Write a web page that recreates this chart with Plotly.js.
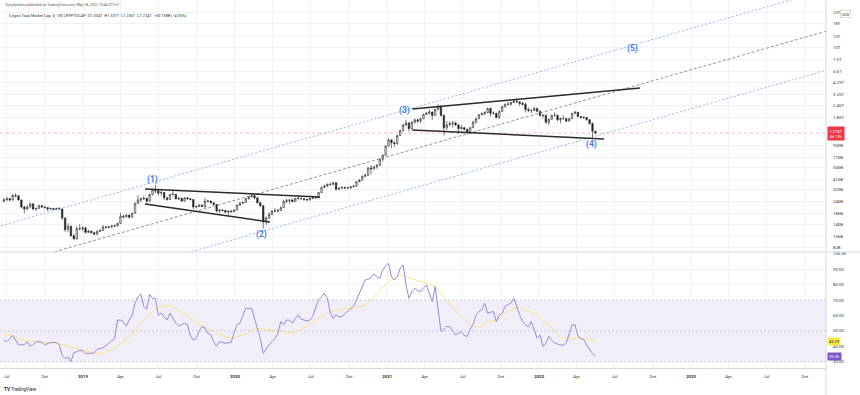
<!DOCTYPE html>
<html><head><meta charset="utf-8">
<script src="https://cdn.plot.ly/plotly-3.0.1.min.js"></script>
<style>html,body{margin:0;padding:0;background:#fff;}#chart{width:860px;height:395px;}</style>
</head><body><div id="chart"></div>
<script>
// ---- DATA (values in billions USD, weekly candles from 2018-06-25) ----
const firstWeek = '2018-06-25';
const firstOpen = 248;
const closes = [255,262,255,285,282,255,215,205,215,232, 205,208,222,215,212,205,207,203,207,205,
 165,125,135,108,100,128,128,130,117,120, 116,112,120,122,133,132,133,136,137,145,
 172,170,177,168,185,235,255,262,265,248, 290,325,318,300,305,268,258,290,292,262,
 265,248,268,262,258,215,218,225,218,248, 248,238,228,195,200,198,190,195,192,200,
 225,237,240,262,275,282,268,238,222,150, 165,180,195,195,198,212,245,250,255,245,
 265,265,262,258,255,265,270,268,305,345, 355,372,370,385,330,338,345,340,340,350,
 355,395,410,450,462,550,540,565,590,680, 750,930,1080,1010,990,1200,1350,1550,1620,1420,
 1650,1750,1700,1800,2000,2050,2120,1950,2250,2400, 1950,1450,1550,1600,1620,1550,1420,1450,1400,1300,
 1450,1650,1800,1980,2030,2080,2300,2050,2050,1850, 2150,2400,2550,2550,2650,2750,2700,2600,2550,2250,
 2200,2200,2300,2150,1950,1950,1650,1780,1950,1950, 1750,1800,1800,1700,1800,2050,2100,1900,1850,1850,
 1750,1600,1334,1274];
const highs = [268,275,268,292,300,285,258,222,225,240, 235,212,228,226,222,215,212,210,212,215,
 207,168,145,138,112,135,142,135,135,124, 122,118,122,126,140,136,137,139,141,147,
 186,180,181,180,188,240,285,272,282,268, 295,332,370,330,322,310,275,296,320,295,
 275,268,272,273,268,260,222,230,228,268, 257,250,242,230,206,204,201,198,199,202,
 230,242,245,268,280,295,290,272,245,225, 172,190,200,210,205,218,255,262,258,262,
 268,285,270,265,262,268,274,273,308,350, 370,378,388,395,392,345,352,350,350,355,
 365,400,420,458,480,560,590,580,600,690, 760,950,1130,1100,1050,1220,1380,1580,1750,1660,
 1700,1800,1800,1850,2030,2120,2250,2130,2300,2550, 2500,2000,1700,1700,1700,1680,1580,1550,1480,1410,
 1470,1720,1830,2010,2100,2150,2350,2370,2150,2080, 2200,2450,2580,2700,2700,2900,2970,2720,2700,2650,
 2350,2250,2400,2350,2200,2000,2000,1800,1980,2100, 2000,1850,1950,1850,1850,2070,2180,2120,1920,1920,
 1880,1800,1650,1337];
const lows = [240,250,248,252,270,250,208,185,200,212, 198,195,205,210,208,195,200,200,200,202,
 158,118,118,105,98,98,122,120,113,115, 113,109,110,118,121,128,128,131,133,134,
 143,163,167,163,166,183,230,240,255,235, 245,285,300,285,282,255,250,255,285,258,
 255,245,246,258,252,205,208,215,214,208, 240,234,224,190,186,194,187,178,189,190,
 198,220,230,238,258,272,258,232,215,128, 140,162,177,190,190,196,210,235,232,240,
 242,255,258,250,250,252,262,265,266,302, 340,350,360,365,318,322,334,330,335,336,
 345,350,390,405,440,455,470,530,540,580, 640,740,920,880,920,960,1190,1330,1500,1330,
 1400,1600,1620,1620,1780,1960,1980,1750,1930,2200, 1900,1200,1380,1500,1450,1500,1250,1380,1350,1270,
 1250,1440,1600,1780,1950,1960,2050,1900,1980,1820, 1800,2120,2350,2500,2480,2630,2650,2450,2480,2100,
 2100,2050,2150,2100,1900,1820,1600,1550,1750,1900, 1700,1600,1780,1650,1680,1790,2000,1880,1800,1790,
 1720,1560,1120,1236];
const rsi = [44,43,45,47,44,41,41,41,43,40, 41,43,43,42.5,41,42,42.5,42.5,42.5,41,
 34,32,33,30,36,36.4,37.5,37,35.3,35.5, 35.3,36,38,38.5,39,40.5,42,43,45,57,
 57,56,53,57,60,68,72,74,66,64, 73.7,71,71,60,61.5,59,57,61.5,58,55,
 53,54,55,54,47,44,45,50,52.8,51.7, 48.5,47.4,43,40,43,42.5,42,42.3,42.6,49,
 54,55,60,64.6,64.6,64.6,58,50.6,45,35.5, 38.7,41,43,45,48,56,54,57,57,55,
 58,60.4,57.5,57,56.5,57,59.3,65,70,72, 74.3,71,62,58.2,60.4,59,59.3,61,62.6,64,
 66,70,74,79,83,83.5,84.4,87,85,84, 89.5,92,93.8,85,83,85,90.6,92.7,80,71.1,
 75.4,77.6,76,75.4,78,79.7,75,69,78.6,65, 49.6,51,52.8,52.8,50,47.4,48.5,49.6,47,46.4,
 51,54,60,62.6,63.6,67.9,61.5,62,62.6,56, 60,61.5,65.8,67,67.9,71.1,65,60.4,56,53.9,
 52.8,56,50.6,45.3,47.4,39.8,42,46.4,44,42, 41.5,40.8,40.8,42,48,53.9,53.9,46.4,45,44.2,
 40.8,38,35.3,33.35];
const rsiMA = [48,47.8,47.6,47,46,45,44.2,44,43.5,43.2, 43,42.7,42.5,42.4,42.3,42.2,42.1,42,42,41.5,
 41,40.5,39.9,39.5,39,38.5,38,37.7,37.2,36.5, 36,35.5,35,35.3,35.8,36.4,37,37.8,39,39.8,
 41.5,43,44.5,46,48.5,51,53,55,57,59, 61,62.6,64,65.4,65.8,66,66.3,66.5,65.5,64.5,
 63.2,62,60.8,59.3,58,56.5,55.3,54.2,53.2,52.5, 51.5,50.6,49.7,48.5,47.7,47,46.4,45.9,45.5,45.5,
 46,46.5,47.2,48,49,50.3,51.7,51.5,51.2,50.9, 50.6,50.5,50.4,50.3,50.2,50,49.6,49.2,48.7,48.6,
 49.3,50,50.6,52,53.5,55,56,57.2,58.3,59.4, 60.5,61.5,62.2,62.8,63.3,63.7,64.1,64.3,64.5,64.8,
 65,65.1,65.6,66.2,66.8,68.5,70.3,72,73.3,75.5, 77.8,80,81.9,83,84,85.2,86.2,85.8,85.2,84.6,
 84,83.5,83,82.4,81.9,81,80.2,79.4,78.6,76, 73.6,71.2,68.9,67,65,63,61.5,59.6,57.6,55.8,
 53.9,53.3,52.7,52.2,53,54.3,55.5,56.2,56.8,57.1, 58.5,60,61.3,62.6,63.5,64.3,65.2,65,64.3,63.5,
 62.6,62,61.3,60.4,58.5,56.7,54.9,53.9,51.8,49.6, 47.4,45.3,45.3,45.3,45.3,45.3,45.3,45.3,45.3,45,
 44.5,44,43.6,43.29];
const rsiLevels = [70, 50, 30];

// drawings (date, value in B)
const channelUpperX = ['2018-05-22', '2023-09-20'], channelUpperY = [127, 33400];
const channelMidX = ['2018-09-20', '2023-12-25'], channelMidY = [66.3, 16270];
const channelLowerX = ['2019-08-22', '2023-12-25'], channelLowerY = [67.9, 6367];
const wedge1TopX = ['2019-05-30', '2020-07-23'], wedge1TopY = [332, 274];
const wedge1BotX = ['2019-05-30', '2020-03-25'], wedge1BotY = [231, 150];
const wedge2TopX = ['2021-03-02', '2022-08-31'], wedge2TopY = [2270, 3770];
const wedge2BotX = ['2021-03-02', '2022-06-06'], wedge2BotY = [1371, 1105];
const waveLabels = ['(1)', '(2)', '(3)', '(4)', '(5)'];
const waveDates = ['2019-06-18', '2020-03-06', '2021-02-11', '2022-05-06', '2022-08-12'];
const waveValues = [412, 110, 2167, 979, 9700];

// axis ticks (1.40T label is hidden behind the price tag in the reference)
const priceTickVals = [23000,18000,13000,10000,7500,5600,4290,3250,2450,1850,950,710,550,415,325,245,185,140,106,82];
const priceTickText = ['23T','18T','13T','10T','7.5T','5.6T','4.29T','3.25T','2.45T','1.85T','950B','710B','550B','415B','325B','245B','185B','140B','106B','82B'];
const rsiTickVals = [30,40,50,60,70,80,90,100];
const rsiTickText = ['30.00','40.00','50.00','60.00','70.00','80.00','90.00','100.00'];
const timeTickVals = ['2018-07-01','2018-10-01','2019-01-01','2019-04-01','2019-07-01','2019-10-01','2020-01-01','2020-04-01','2020-07-01','2020-10-01','2021-01-01','2021-04-01','2021-07-01','2021-10-01','2022-01-01','2022-04-01','2022-07-01','2022-10-01','2023-01-01','2023-04-01','2023-07-01','2023-10-01'];
const timeTickText = ['Jul','Oct','<b>2019</b>','Apr','Jul','Oct','<b>2020</b>','Apr','Jul','Oct','<b>2021</b>','Apr','Jul','Oct','<b>2022</b>','Apr','Jul','Oct','<b>2023</b>','Apr','Jul','Oct'];

// ---- BUILD ----
const t0 = Date.parse(firstWeek + 'T00:00:00Z');
const dates = closes.map((_, i) => new Date(t0 + i * 7 * 864e5).toISOString().slice(0, 10));
const opens = closes.map((c, i) => i === 0 ? firstOpen : closes[i - 1]);
const lastClose = closes[closes.length - 1];
const xRange = ['2018-06-15 14:00', '2023-11-21'];
const FONT = 'Roboto, "Liberation Sans", sans-serif';

const traces = [
  {type:'scatter', mode:'lines', x:channelUpperX, y:channelUpperY, xaxis:'x', yaxis:'y', line:{color:'#7fa2f0', width:0.8, dash:'2px,2px'}, hoverinfo:'skip'},
  {type:'scatter', mode:'lines', x:channelLowerX, y:channelLowerY, xaxis:'x', yaxis:'y', line:{color:'#7fa2f0', width:0.8, dash:'2px,2px'}, hoverinfo:'skip'},
  {type:'scatter', mode:'lines', x:channelMidX, y:channelMidY, xaxis:'x', yaxis:'y', line:{color:'#777', width:0.8, dash:'3px,2px'}, hoverinfo:'skip'},
  {type:'scatter', mode:'lines', x:xRange, y:[lastClose, lastClose], xaxis:'x', yaxis:'y', line:{color:'rgba(242,54,69,0.45)', width:0.8, dash:'dot'}, hoverinfo:'skip'},
  {type:'candlestick', x:dates, open:opens, high:highs, low:lows, close:closes, xaxis:'x', yaxis:'y',
    increasing:{line:{color:'#222', width:0.6}, fillcolor:'#ffffff'},
    decreasing:{line:{color:'#222', width:0.6}, fillcolor:'#222'}, whiskerwidth:0, hoverinfo:'skip'},
  {type:'scatter', mode:'lines', x:wedge1TopX, y:wedge1TopY, xaxis:'x', yaxis:'y', line:{color:'#2a2a2a', width:1.5}, hoverinfo:'skip'},
  {type:'scatter', mode:'lines', x:wedge1BotX, y:wedge1BotY, xaxis:'x', yaxis:'y', line:{color:'#2a2a2a', width:1.5}, hoverinfo:'skip'},
  {type:'scatter', mode:'lines', x:wedge2TopX, y:wedge2TopY, xaxis:'x', yaxis:'y', line:{color:'#2a2a2a', width:1.5}, hoverinfo:'skip'},
  {type:'scatter', mode:'lines', x:wedge2BotX, y:wedge2BotY, xaxis:'x', yaxis:'y', line:{color:'#2a2a2a', width:1.5}, hoverinfo:'skip'},
  {type:'scatter', mode:'lines', x:dates, y:rsiMA, xaxis:'x', yaxis:'y2', line:{color:'#f9e48c', width:1}, hoverinfo:'skip'},
  {type:'scatter', mode:'lines', x:dates, y:rsi, xaxis:'x', yaxis:'y2', line:{color:'#9b85de', width:1}, hoverinfo:'skip'}
];

const shapes = [
  {type:'rect', xref:'paper', yref:'y2', x0:0, x1:1, y0:rsiLevels[2], y1:rsiLevels[0], fillcolor:'rgba(126,87,194,0.10)', line:{width:0}, layer:'below'},
  ...rsiLevels.map(v => ({type:'line', xref:'paper', yref:'y2', x0:0, x1:1, y0:v, y1:v, line:{color:'#c2bed2', width:0.8, dash:'2px,2px'}})),
  {type:'line', xref:'paper', yref:'paper', x0:0, x1:1.042, y0:0.3152, y1:0.3152, line:{color:'#d6d9e0', width:1}},
  {type:'line', xref:'paper', yref:'paper', x0:1, x1:1, y0:-0.075, y1:1, line:{color:'#d6d9e0', width:1}}
];

const annotations = [
  {xref:'paper', yref:'paper', x:0.004, y:0.986, xanchor:'left', yanchor:'middle', showarrow:false,
   text:'TonySpilotro published on TradingView.com, May 18, 2022 10:44 UTC+1', font:{family:FONT, size:3.6, color:'#555'}},
  {xref:'paper', yref:'paper', x:0.008, y:0.959, xanchor:'left', yanchor:'middle', showarrow:false,
   text:'Crypto Total Market Cap, $, 1W, CRYPTOCAP  O1.334T  H1.337T  L1.236T  C1.274T  \u221260.738B (\u22124.55%)', font:{family:FONT, size:3.9, color:'#333'}},
  {xref:'paper', yref:'paper', x:1.017, y:0.962, xanchor:'left', yanchor:'middle', showarrow:false, text:'USD',
   font:{family:FONT, size:4, color:'#333'}, bgcolor:'#fff', bordercolor:'#bbb', borderwidth:0.5, borderpad:1},
  {xref:'paper', yref:'y', x:1.001, y:Math.log10(lastClose), xanchor:'left', yanchor:'middle', showarrow:false,
   text:'1.274T<br>4d 13h', align:'left', font:{family:FONT, size:4, color:'#fff'}, bgcolor:'#f23645', borderpad:1.5},
  {xref:'paper', yref:'y2', x:1.001, y:rsiMA[rsiMA.length - 1], xanchor:'left', yanchor:'middle', showarrow:false,
   text:rsiMA[rsiMA.length - 1].toFixed(2), font:{family:FONT, size:4, color:'#222'}, bgcolor:'#fbe94a', borderpad:1},
  {xref:'paper', yref:'y2', x:1.001, y:rsi[rsi.length - 1], xanchor:'left', yanchor:'middle', showarrow:false,
   text:rsi[rsi.length - 1].toFixed(2), font:{family:FONT, size:4, color:'#fff'}, bgcolor:'#7e57c2', borderpad:1},
  {xref:'paper', yref:'paper', x:0.003, y:-0.058, xanchor:'left', yanchor:'middle', showarrow:false,
   text:'<b>TV</b> TradingView', font:{family:FONT, size:4.6, color:'#222'}},
  ...waveLabels.map((t, i) => ({xref:'x', yref:'y', x:waveDates[i], y:Math.log10(waveValues[i]), showarrow:false,
   text:'<b>' + t + '</b>', font:{family:FONT, size:8.5, color:'#3f7ce6'}}))
];

const layout = {
  width:860, height:395, margin:{l:0, r:34, t:0, b:27}, paper_bgcolor:'#fff', plot_bgcolor:'#fff',
  showlegend:false, font:{family:FONT},
  xaxis:{type:'date', range:xRange, anchor:'y2', tickvals:timeTickVals, ticktext:timeTickText,
    tickfont:{family:FONT, size:4.3, color:'#333'}, ticks:'', ticklabelstandoff:4, showgrid:true, gridcolor:'#f1f2f5', gridwidth:1,
    zeroline:false, showline:true, linecolor:'#d6d9e0', rangeslider:{visible:false}, fixedrange:true},
  yaxis:{type:'log', domain:[0.3152, 1], range:[1.8624, 4.4956], side:'right', anchor:'x',
    tickvals:priceTickVals, ticktext:priceTickText, tickfont:{family:FONT, size:4.3, color:'#333'}, ticks:'', ticklabelstandoff:6,
    showgrid:true, gridcolor:'#f1f2f5', zeroline:false, showline:false},
  yaxis2:{domain:[0, 0.3125], range:[25.93, 100.46], side:'right', anchor:'x',
    tickvals:rsiTickVals, ticktext:rsiTickText, tickfont:{family:FONT, size:4.3, color:'#333'}, ticks:'', ticklabelstandoff:6,
    showgrid:true, gridcolor:'#f1f2f5', zeroline:false, showline:false},
  shapes:shapes, annotations:annotations
};

Plotly.newPlot('chart', traces, layout, {staticPlot:true, displayModeBar:false});
</script>
</body></html>
